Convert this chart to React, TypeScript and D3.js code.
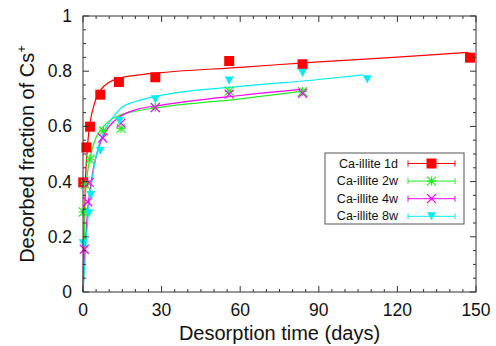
import { useEffect, useRef } from 'react';
import * as d3 from 'd3';

// measured points [days, fraction]
const ca1d: [number, number][] = [
  [0.1, 0.397], [1.3, 0.524], [2.7, 0.599], [6.6, 0.715], [13.7, 0.761],
  [27.6, 0.778], [55.8, 0.837], [83.8, 0.825], [147.7, 0.849],
];
const ca2w: [number, number][] = [
  [0.1, 0.29], [0.9, 0.39], [2.7, 0.481], [7.8, 0.584], [14.5, 0.593],
  [27.6, 0.669], [55.8, 0.728], [83.8, 0.726],
];
const ca4w: [number, number][] = [
  [0.5, 0.155], [1.8, 0.327], [2.4, 0.397], [7.5, 0.558], [14.5, 0.612],
  [27.6, 0.668], [55.8, 0.717], [83.8, 0.72],
];
const ca8w: [number, number][] = [
  [0.1, 0.176], [2.2, 0.285], [3.0, 0.351], [6.6, 0.512], [13.9, 0.62],
  [27.6, 0.698], [55.8, 0.766], [83.8, 0.794], [108.5, 0.771],
];

// fitted curves
const fit1d: [number, number][] = [
  [0, 0], [0.25, 0.15], [0.5, 0.26], [1, 0.42], [1.5, 0.5], [2, 0.56], [3, 0.63],
  [4, 0.67], [5, 0.7], [7, 0.735], [10, 0.76], [14, 0.775], [20, 0.785], [30, 0.795],
  [60, 0.814], [90, 0.834], [120, 0.851], [147, 0.868],
];
const fit2w: [number, number][] = [
  [0, 0], [0.5, 0.2], [1, 0.36], [2, 0.45], [3, 0.5], [5, 0.56], [7, 0.59], [10, 0.62],
  [14, 0.64], [20, 0.655], [30, 0.67], [60, 0.70], [84, 0.728],
];
const fit4w: [number, number][] = [
  [0, 0], [0.5, 0.1], [1, 0.19], [2, 0.32], [3, 0.39], [4, 0.45], [5, 0.49], [7, 0.55],
  [10, 0.6], [14, 0.635], [20, 0.66], [30, 0.677], [60, 0.712], [84, 0.735],
];
const fit8w: [number, number][] = [
  [0, 0], [1, 0.15], [2, 0.28], [3, 0.37], [4, 0.44], [5, 0.49], [6, 0.53], [8, 0.58],
  [10, 0.615], [12, 0.64], [15, 0.67], [20, 0.69], [30, 0.713], [60, 0.745], [90, 0.77],
  [107, 0.787],
];

const seriesNames = ['Ca-illite 1d', 'Ca-illite 2w', 'Ca-illite 4w', 'Ca-illite 8w'];
const seriesColors = ['#ff0000', '#22ee22', '#ff00ff', '#00eeee'];
const seriesMarkers = ['square', 'star', 'cross', 'triangle'];
const xTicks = [0, 30, 60, 90, 120, 150];
const yTicks = [0, 0.2, 0.4, 0.6, 0.8, 1];

function markerPath(kind: string, s: number): string {
  if (kind === 'square') return d3.symbol(d3.symbolSquare, s * s)() ?? '';
  if (kind === 'triangle') {
    const h = s * 0.9;
    return `M${-s / 2},${-h / 2}L${s / 2},${-h / 2}L0,${h / 2}Z`;
  }
  const r = s / 2;
  if (kind === 'cross') return `M${-r},${-r}L${r},${r}M${-r},${r}L${r},${-r}`;
  return `M${-r},${-r}L${r},${r}M${-r},${r}L${r},${-r}M0,${-r}L0,${r}M${-r},0L${r},0`;
}

export default function App() {
  const svgRef = useRef<SVGSVGElement>(null);

  useEffect(() => {
    if (!svgRef.current) return;
    const width = 496;
    const height = 346;
    const margin = { top: 16, right: 20, bottom: 54, left: 83 };

    const svg = d3.select(svgRef.current);
    svg.selectAll('*').remove();
    svg.attr('width', width).attr('height', height);

    const x = d3.scaleLinear().domain([0, 150]).range([margin.left, width - margin.right]);
    const y = d3.scaleLinear().domain([0, 1]).range([height - margin.bottom, margin.top]);
    const font = 'Liberation Sans, Arial, sans-serif';
    const frame = '#333';

    const fits = [fit1d, fit2w, fit4w, fit8w];
    const points = [ca1d, ca2w, ca4w, ca8w];

    const line = d3
      .line<[number, number]>()
      .x((d) => x(d[0]))
      .y((d) => y(d[1]))
      .curve(d3.curveMonotoneX);

    const plot = svg.append('g');
    fits.forEach((f, i) => {
      plot.append('path')
        .attr('d', line(f) ?? '')
        .attr('fill', 'none')
        .attr('stroke', seriesColors[i])
        .attr('stroke-width', 1.2);
    });

    // draw points (later series on top, like the original)
    points.forEach((pts, i) => {
      const kind = seriesMarkers[i];
      const size = kind === 'square' ? 10 : 9;
      pts.forEach((p) => {
        plot.append('path')
          .attr('transform', `translate(${x(p[0])},${y(p[1])})`)
          .attr('d', markerPath(kind, size))
          .attr('fill', kind === 'square' || kind === 'triangle' ? seriesColors[i] : 'none')
          .attr('stroke', seriesColors[i])
          .attr('stroke-width', kind === 'square' || kind === 'triangle' ? 0 : 1.2);
      });
    });

    // frame
    svg.append('rect')
      .attr('x', x(0)).attr('y', y(1))
      .attr('width', x(150) - x(0)).attr('height', y(0) - y(1))
      .attr('fill', 'none').attr('stroke', frame).attr('stroke-width', 1);

    // ticks (inside, mirrored)
    const ticks = svg.append('g').attr('stroke', frame).attr('stroke-width', 1);
    d3.range(0, 151, 5).forEach((v) => {
      const len = v % 30 === 0 ? 6 : 3;
      ticks.append('line').attr('x1', x(v)).attr('x2', x(v)).attr('y1', y(0)).attr('y2', y(0) - len);
      ticks.append('line').attr('x1', x(v)).attr('x2', x(v)).attr('y1', y(1)).attr('y2', y(1) + len);
    });
    d3.range(0, 21).forEach((k) => {
      const v = k * 0.05;
      const len = k % 4 === 0 ? 6 : 3;
      ticks.append('line').attr('x1', x(0)).attr('x2', x(0) + len).attr('y1', y(v)).attr('y2', y(v));
      ticks.append('line').attr('x1', x(150)).attr('x2', x(150) - len).attr('y1', y(v)).attr('y2', y(v));
    });

    xTicks.forEach((v) => {
      svg.append('text')
        .attr('x', x(v)).attr('y', 316)
        .attr('text-anchor', 'middle')
        .attr('font-family', font).attr('font-size', 17.5).attr('fill', '#111')
        .text(String(v));
    });
    yTicks.forEach((v) => {
      svg.append('text')
        .attr('x', 72).attr('y', y(v) + 6)
        .attr('text-anchor', 'end')
        .attr('font-family', font).attr('font-size', 17.5).attr('fill', '#111')
        .text(String(v));
    });

    svg.append('text')
      .attr('x', (x(0) + x(150)) / 2).attr('y', 340)
      .attr('text-anchor', 'middle')
      .attr('font-family', font).attr('font-size', 20).attr('fill', '#111')
      .text('Desorption time (days)');

    const yl = svg.append('text')
      .attr('transform', `translate(34,${(y(0) + y(1)) / 2}) rotate(-90)`)
      .attr('text-anchor', 'middle')
      .attr('font-family', font).attr('font-size', 20).attr('fill', '#111');
    yl.append('tspan').text('Desorbed fraction of Cs');
    yl.append('tspan').attr('dy', -8).attr('font-size', 13).text('+');

    // legend
    const lg = svg.append('g');
    lg.append('rect')
      .attr('x', 325).attr('y', 153).attr('width', 139).attr('height', 71)
      .attr('fill', 'white').attr('stroke', '#555').attr('stroke-width', 1);
    seriesNames.forEach((name, i) => {
      const ly = 163.5 + i * 17.6;
      lg.append('text')
        .attr('x', 398).attr('y', ly)
        .attr('text-anchor', 'end').attr('dominant-baseline', 'central')
        .attr('font-family', font).attr('font-size', 12.5).attr('fill', '#111')
        .text(name);
      const c = seriesColors[i];
      lg.append('line').attr('x1', 408).attr('x2', 455).attr('y1', ly).attr('y2', ly).attr('stroke', c);
      lg.append('line').attr('x1', 408).attr('x2', 408).attr('y1', ly - 3).attr('y2', ly + 3).attr('stroke', c);
      lg.append('line').attr('x1', 455).attr('x2', 455).attr('y1', ly - 3).attr('y2', ly + 3).attr('stroke', c);
      const kind = seriesMarkers[i];
      lg.append('path')
        .attr('transform', `translate(431.5,${ly})`)
        .attr('d', markerPath(kind, kind === 'square' ? 10 : 9))
        .attr('fill', kind === 'square' || kind === 'triangle' ? c : 'none')
        .attr('stroke', c)
        .attr('stroke-width', kind === 'square' || kind === 'triangle' ? 0 : 1.2);
    });
  }, []);

  return (
    <div style={{ position: 'absolute', left: 0, top: 0 }}>
      <svg ref={svgRef} style={{ display: 'block' }} />
    </div>
  );
}
